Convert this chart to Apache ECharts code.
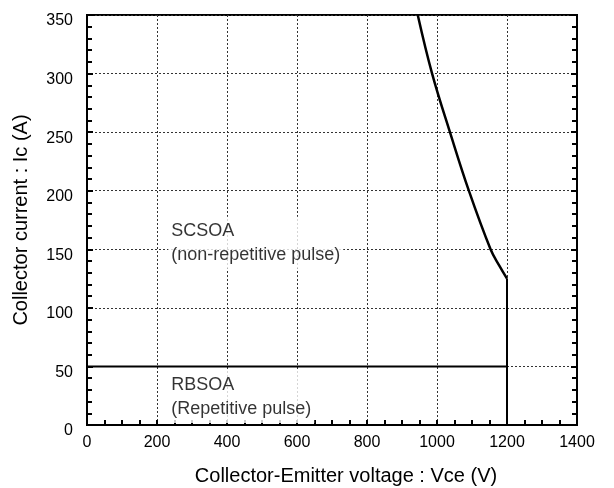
<!DOCTYPE html>
<html>
<head>
<meta charset="utf-8">
<script src="https://cdn.jsdelivr.net/npm/echarts@6/dist/echarts.min.js"></script>
<style>html,body{margin:0;padding:0;background:#fff}#c{width:614px;height:488px}</style>
</head>
<body>
<div id="c"></div>
<script>
var xTicks = [0, 200, 400, 600, 800, 1000, 1200, 1400];
var yTicks = [0, 50, 100, 150, 200, 250, 300, 350];
// SCSOA boundary (non-repetitive pulse): Vce (V), Ic (A)
var scsoaV = [945, 986, 1037, 1091, 1153, 1178, 1200];
var scsoaI = [350, 300, 250, 200, 150, 136, 125];
// vertical voltage limit
var limitV = [1200, 1200];
var limitI = [0, 125];
// RBSOA boundary (repetitive pulse)
var rbsoaV = [0, 1200];
var rbsoaI = [50, 50];
var labels = ['SCSOA\n(non-repetitive pulse)', 'RBSOA\n(Repetitive pulse)'];
var labelV = [232, 232];
var labelI = [155.5, 24];

var font = 'Liberation Sans, Arial, sans-serif';
function pairs(a, b) { return a.map(function (v, i) { return [v, b[i]]; }); }

var chart = echarts.init(document.getElementById('c'));
chart.setOption({
  animation: false,
  backgroundColor: '#fff',
  grid: { left: 87, right: 37, top: 15, bottom: 63, show: true, borderColor: '#000', borderWidth: 2,
          containLabel: false, outerBoundsMode: 'none' },
  xAxis: {
    type: 'value', min: xTicks[0], max: xTicks[xTicks.length - 1], interval: 200,
    name: 'Collector-Emitter voltage : Vce (V)', nameLocation: 'middle', nameGap: 41,
    nameTextStyle: { fontFamily: font, fontSize: 20, color: '#000', padding: [0, 0, 0, 28] },
    axisLine: { show: true, lineStyle: { color: '#000', width: 2 } },
    axisTick: { show: true, inside: true, length: 5, lineStyle: { color: '#000', width: 2 } },
    minorTick: { show: true, splitNumber: 4, length: 5, lineStyle: { color: '#000', width: 2 } },
    axisLabel: { fontFamily: font, fontSize: 16, color: '#000', margin: 10, formatter: function (v) { return String(v); } },
    splitLine: { show: true, lineStyle: { color: '#333', type: [2, 2], width: 1 } }
  },
  yAxis: [{
    type: 'value', min: yTicks[0], max: yTicks[yTicks.length - 1], interval: 50,
    name: 'Collector current : Ic (A)', nameLocation: 'middle', nameGap: 56,
    nameTextStyle: { fontFamily: font, fontSize: 20, color: '#000' },
    axisLine: { show: true, lineStyle: { color: '#000', width: 2 } },
    axisTick: { show: true, inside: true, length: 6, lineStyle: { color: '#000', width: 2 } },
    minorTick: { show: true, splitNumber: 5, length: 5, lineStyle: { color: '#000', width: 2 } },
    axisLabel: { fontFamily: font, fontSize: 16, color: '#000', margin: 14, verticalAlign: 'top', lineHeight: 12 },
    splitLine: { show: true, lineStyle: { color: '#333', type: [2, 2], width: 1 } }
  }, {
    type: 'value', position: 'right', min: yTicks[0], max: yTicks[yTicks.length - 1], interval: 50,
    axisLine: { show: true, lineStyle: { color: '#000', width: 2 } },
    axisTick: { show: true, inside: true, length: 6, lineStyle: { color: '#000', width: 2 } },
    minorTick: { show: true, splitNumber: 5, length: 5, lineStyle: { color: '#000', width: 2 } },
    axisLabel: { show: false },
    splitLine: { show: false }
  }],
  series: [{
    type: 'scatter', symbolSize: 0, z: 3, silent: true,
    data: pairs(labelV, labelI).map(function (p, i) {
      return { value: p, label: { formatter: labels[i] } };
    }),
    label: {
      show: true, position: 'right', distance: 0, align: 'left',
      fontFamily: font, fontSize: 18, color: '#000', lineHeight: 24,
      backgroundColor: '#fff', padding: [2, 3, 2, 3]
    }
  }, {
    type: 'line', smooth: 0.4, symbol: 'none', z: 4,
    data: pairs(scsoaV, scsoaI),
    lineStyle: { color: '#000', width: 2.5 }
  }, {
    type: 'line', symbol: 'none', z: 4,
    data: pairs(limitV, limitI),
    lineStyle: { color: '#000', width: 2 }
  }, {
    type: 'line', symbol: 'none', z: 4,
    data: pairs(rbsoaV, rbsoaI),
    lineStyle: { color: '#000', width: 2 }
  }]
});
</script>
</body>
</html>
